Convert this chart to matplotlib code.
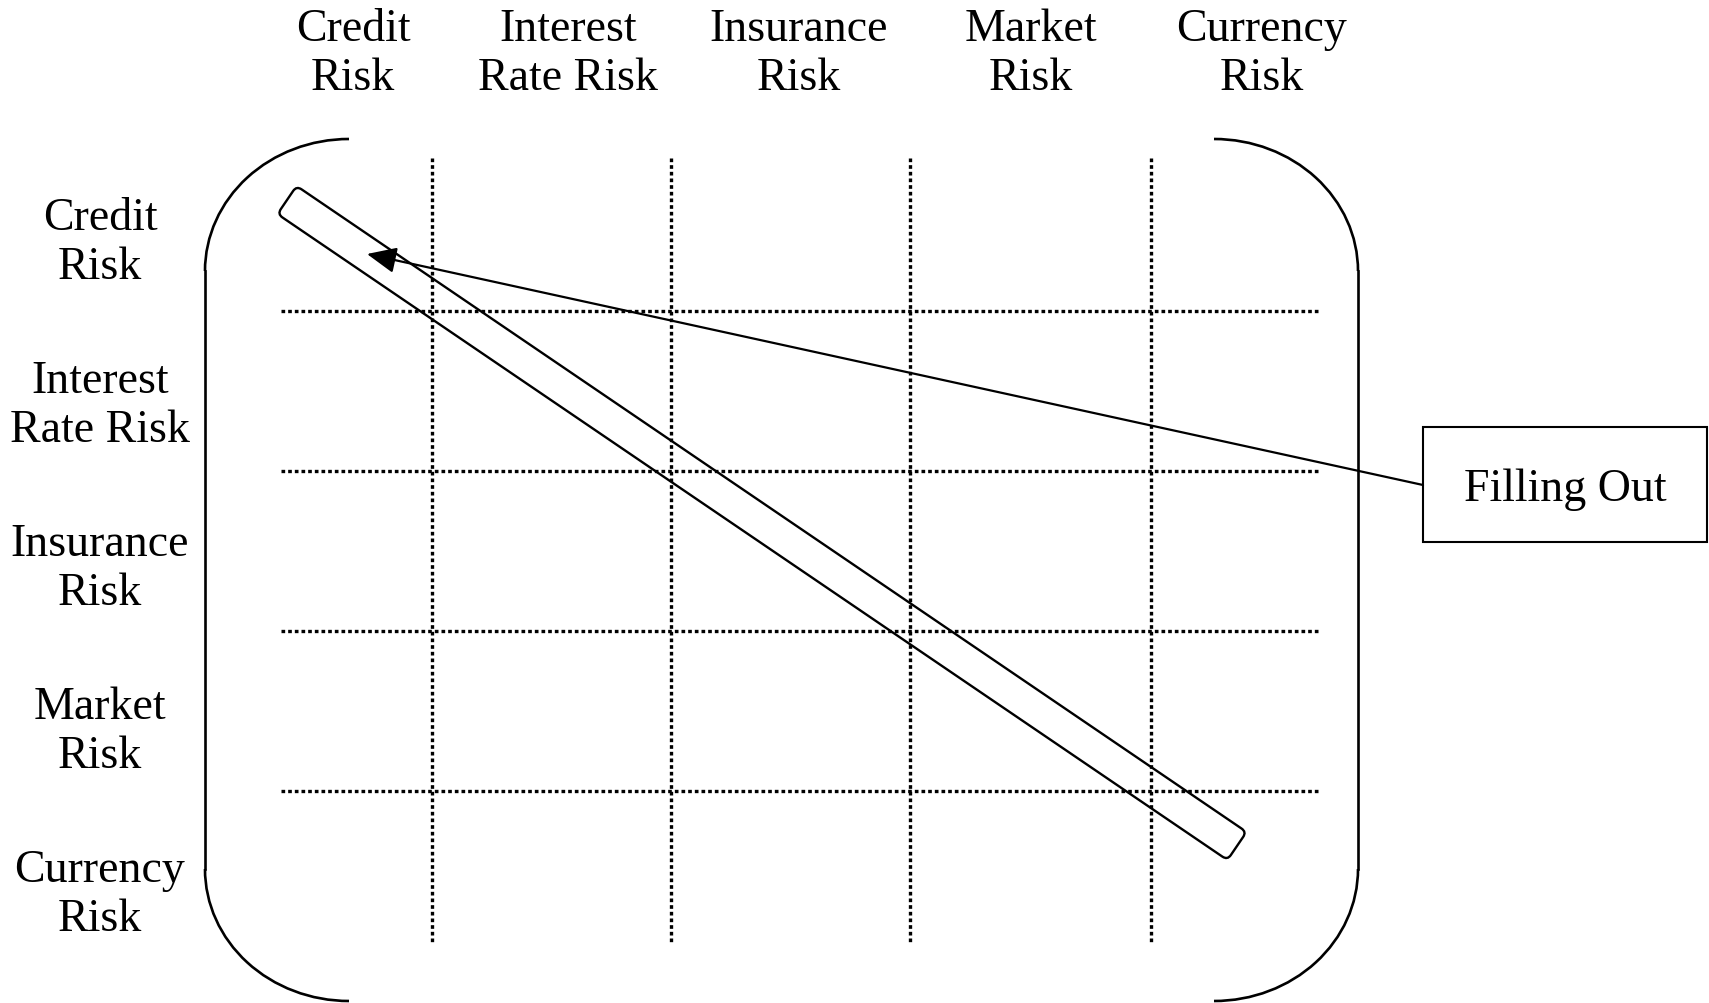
import numpy as np
import matplotlib
matplotlib.use("Agg")
from matplotlib import pyplot as plt
from matplotlib.patches import FancyBboxPatch, Rectangle, FancyArrowPatch, Arc
from matplotlib.transforms import Affine2D

plt.rcParams["font.family"] = ["Liberation Serif", "DejaVu Serif"]

risks = ["Credit\nRisk", "Interest\nRate Risk", "Insurance\nRisk", "Market\nRisk", "Currency\nRisk"]
col_label_x = [353, 568, 799, 1031, 1262]
row_label_y = [243, 406, 569, 732, 895]
grid_x = [432, 671, 910, 1151]
grid_y = [312, 472, 632, 792]

fig = plt.figure(figsize=(17.09, 10.04), dpi=100)
ax = fig.add_axes([0, 0, 1, 1])
ax.set_xlim(0, 1709)
ax.set_ylim(1004, 0)
ax.axis("off")

fs = 33
for x, name in zip(col_label_x, risks):
    ax.text(x, 54, name, ha="center", va="center", fontsize=fs, linespacing=1.2)
for y, name in zip(row_label_y, risks):
    ax.text(100, y, name, ha="center", va="center", fontsize=fs, linespacing=1.2)

# dotted grid
dot = (0, (1.1, 0.9))
for x in grid_x:
    ax.plot([x, x], [159, 943], color="black", lw=2.4, linestyle=dot)
for y in grid_y:
    ax.plot([281, 1318], [y, y], color="black", lw=2.4, linestyle=dot)

# brackets (y axis is inverted, so angles run the other way)
rx, ry = 144, 132
lw_b = 1.9
ax.add_patch(Arc((205 + rx, 140 + ry), 2 * rx, 2 * ry, theta1=180, theta2=270, lw=lw_b))
ax.add_patch(Arc((205 + rx, 1002 - ry), 2 * rx, 2 * ry, theta1=90, theta2=180, lw=lw_b))
ax.plot([205, 205], [140 + ry, 1002 - ry], color="black", lw=lw_b)
ax.add_patch(Arc((1358 - rx, 140 + ry), 2 * rx, 2 * ry, theta1=270, theta2=360, lw=lw_b))
ax.add_patch(Arc((1358 - rx, 1002 - ry), 2 * rx, 2 * ry, theta1=0, theta2=90, lw=lw_b))
ax.plot([1358, 1358], [140 + ry, 1002 - ry], color="black", lw=lw_b)

# diagonal highlighted band
p0 = np.array([287, 201])
p1 = np.array([1237, 847])
length = np.hypot(*(p1 - p0))
ang = np.degrees(np.arctan2(p1[1] - p0[1], p1[0] - p0[0]))
band_w = 34
rp = 6
band = FancyBboxPatch((p0[0] + rp, p0[1] - band_w / 2 + rp), length - 2 * rp, band_w - 2 * rp,
                      boxstyle=f"round,pad={rp}", facecolor="none", edgecolor="black", lw=1.7,
                      transform=Affine2D().rotate_deg_around(p0[0], p0[1], ang) + ax.transData)
ax.add_patch(band)

# label box and arrow
ax.add_patch(Rectangle((1423, 428), 284, 115, facecolor="white", edgecolor="black", lw=1.5))
ax.text(1565, 490, "Filling Out", ha="center", va="center", fontsize=fs)
ax.add_patch(FancyArrowPatch((1423, 486), (367, 255), arrowstyle="-|>,head_length=0.9,head_width=0.4",
                             mutation_scale=20, color="black", lw=1.6, shrinkA=0, shrinkB=0))

fig.savefig("out.png", dpi=100, facecolor="white")
